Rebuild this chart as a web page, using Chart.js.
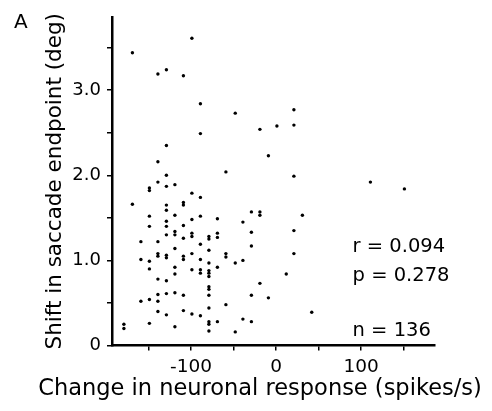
<!DOCTYPE html>
<html>
<head>
<meta charset="utf-8">
<script src="https://cdn.jsdelivr.net/npm/chart.js@4.4.1/dist/chart.umd.min.js"></script>
<style>
  html, body { margin: 0; padding: 0; background: #fff; }
  #wrap { width: 492px; height: 411px; }
</style>
</head>
<body>
<div id="wrap"><canvas id="scatter" width="492" height="411"></canvas></div>
<script>
// change in neuronal response (spikes/s)
const responseChange = [
  -169, -99, -139, -129, -109, -89, -48, -89, -129, -139,
  -59, -129, 21, -19, 1, 21, -9, 21, 111, 151,
  -149, -149, -139, -129, -119, -99, -89, -169, -129, -129,
  -109, -109, -149, -149, -129, -129, -119, -109, -99, -89,
  -69, -129, -119, -119, -109, -99, -99, -89, -79, -79,
  -69, -69, -159, -139, -119, -79, -39, -159, -149, -149,
  -139, -139, -129, -129, -109, -109, -99, -89, -79, -69,
  -59, -59, -48, -39, -119, -119, -99, -89, -89, -79,
  -79, -79, -139, -129, -79, -79, -119, -129, -139, -109,
  -79, -159, -149, -139, -79, -59, -139, -109, -129, -99,
  -89, -149, -79, -79, -69, -39, -179, -179, -119, -79,
  -48, -29, -19, -19, -29, -29, -29, -19, -9, 12,
  21, 21, 31, 42, -29
];
// shift in saccade endpoint (deg)
const endpointShift = [
  3.44, 3.61, 3.19, 3.24, 3.17, 2.84, 2.73, 2.49, 2.35, 2.16,
  2.04, 2.00, 2.77, 2.54, 2.58, 2.59, 2.23, 1.99, 1.92, 1.84,
  1.85, 1.82, 1.92, 1.87, 1.89, 1.79, 1.74, 1.66, 1.65, 1.59,
  1.68, 1.65, 1.52, 1.40, 1.46, 1.40, 1.53, 1.41, 1.48, 1.52,
  1.49, 1.30, 1.34, 1.30, 1.26, 1.32, 1.28, 1.19, 1.28, 1.25,
  1.32, 1.27, 1.22, 1.22, 1.14, 1.12, 1.45, 1.01, 0.99, 0.90,
  1.08, 1.05, 1.06, 1.03, 1.05, 1.01, 1.08, 1.01, 0.97, 0.92,
  1.08, 1.04, 0.97, 1.00, 0.92, 0.84, 0.89, 0.89, 0.85, 0.88,
  0.85, 0.81, 0.78, 0.76, 0.69, 0.66, 0.62, 0.61, 0.60, 0.59,
  0.59, 0.52, 0.54, 0.52, 0.44, 0.48, 0.40, 0.41, 0.36, 0.37,
  0.35, 0.26, 0.28, 0.25, 0.28, 0.31, 0.25, 0.20, 0.22, 0.17,
  0.16, 1.57, 1.57, 1.53, 1.33, 1.17, 0.59, 0.73, 0.56, 0.84,
  1.35, 1.08, 1.53, 0.39, 0.28
];
const xTickLabels = [-100, 0, 100];
const yTickLabels = [0, 1, 2, 3];
const statLines = ['r = 0.094', 'p = 0.278', 'n = 136'];
const xTitle = 'Change in neuronal response (spikes/s)';

const FONT = "'DejaVu Sans', 'Liberation Sans', sans-serif";

const pts = responseChange.map((x, i) => ({ x: x, y: endpointShift[i] }));

// panel letter, x title (wider than the plot, so drawn by hand) and stats text
const textPlugin = {
  id: 'textPlugin',
  afterDraw(chart) {
    const c = chart.ctx;
    const xs = chart.scales.x, ys = chart.scales.y;
    c.save();
    c.fillStyle = '#000';
    c.font = '20px ' + FONT;
    c.textAlign = 'left';
    c.textBaseline = 'top';
    c.fillText('A', 14, 13);

    c.font = '22.5px ' + FONT;
    c.textAlign = 'center';
    c.textBaseline = 'middle';
    c.fillText(xTitle, 260, 389);

    c.font = '19.5px ' + FONT;
    c.textAlign = 'left';
    const statY = [1.16, 0.82, 0.17];
    statLines.forEach((t, i) => {
      c.fillText(t, xs.getPixelForValue(90), ys.getPixelForValue(statY[i]));
    });
    c.restore();
  }
};

new Chart(document.getElementById('scatter'), {
  type: 'scatter',
  data: {
    datasets: [{
      data: pts,
      backgroundColor: '#000',
      borderWidth: 0,
      pointRadius: 1.7,
      pointHoverRadius: 1.7
    }]
  },
  options: {
    responsive: false,
    animation: false,
    layout: { padding: { left: 43, top: 17, right: 57, bottom: 9 } },
    plugins: { legend: { display: false }, tooltip: { enabled: false } },
    scales: {
      x: {
        type: 'linear',
        min: -193,
        max: 187,
        afterFit: s => { s.height = 56.5; },
        border: { display: true, color: '#000', width: 2.5 },
        grid: { drawOnChartArea: false, drawTicks: true, tickLength: 5, color: '#000', lineWidth: 1.5 },
        ticks: {
          stepSize: 50,
          includeBounds: false,
          autoSkip: false,
          maxRotation: 0,
          padding: 6,
          color: '#000',
          font: { family: FONT, size: 18.5 },
          callback: v => xTickLabels.includes(v) ? String(v) : ''
        },
        title: { display: false }
      },
      y: {
        type: 'linear',
        min: 0,
        max: 3.86,
        afterFit: s => { s.width = 69; },
        border: { display: true, color: '#000', width: 2.5 },
        grid: { drawOnChartArea: false, drawTicks: true, tickLength: 5, color: '#000', lineWidth: 1.5 },
        ticks: {
          stepSize: 0.5,
          includeBounds: false,
          autoSkip: false,
          padding: 6,
          color: '#000',
          font: { family: FONT, size: 18 },
          callback: v => yTickLabels.includes(v) ? (v === 0 ? '0' : v.toFixed(1)) : ''
        },
        title: {
          display: true,
          text: 'Shift in saccade endpoint (deg)',
          color: '#000',
          padding: 0,
          font: { family: FONT, size: 21.5 }
        }
      }
    }
  },
  plugins: [textPlugin]
});
</script>
</body>
</html>
